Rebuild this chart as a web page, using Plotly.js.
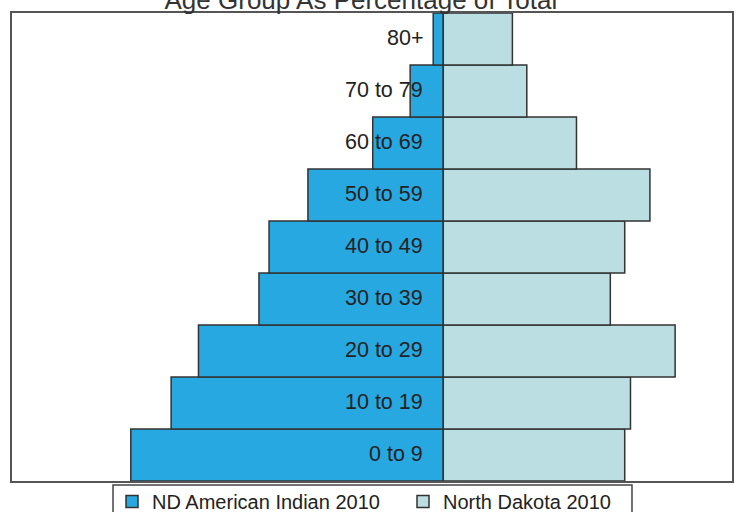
<!DOCTYPE html>
<html>
<head>
<meta charset="utf-8">
<script src="https://cdn.plot.ly/plotly-3.0.1.min.js"></script>
<style>html,body{margin:0;padding:0;background:#fff;}</style>
</head>
<body>
<div id="chart" style="width:738px;height:512px;"></div>
<script>
// Age groups (bottom to top)
const ageGroups = ["0 to 9", "10 to 19", "20 to 29", "30 to 39", "40 to 49", "50 to 59", "60 to 69", "70 to 79", "80+"];
// Percentage of total population
const ndAmericanIndian2010 = [21.7, 18.9, 17.0, 12.8, 12.1, 9.4, 4.9, 2.3, 0.7];
const northDakota2010 = [12.6, 13.0, 16.1, 11.6, 12.6, 14.35, 9.25, 5.8, 4.8];
const seriesNames = ["ND American Indian 2010", "North Dakota 2010"];

const font = '"Liberation Sans", Arial, sans-serif';

const traces = [
  {
    type: 'bar', orientation: 'h',
    name: seriesNames[0],
    y: ageGroups,
    x: ndAmericanIndian2010.map(v => -v),
    marker: {color: '#27A8E0', line: {color: '#333333', width: 1.5}},
    hoverinfo: 'skip'
  },
  {
    type: 'bar', orientation: 'h',
    name: seriesNames[1],
    y: ageGroups,
    x: northDakota2010,
    marker: {color: '#BADEE2', line: {color: '#333333', width: 1.5}},
    hoverinfo: 'skip'
  }
];

const annotations = ageGroups.map(g => ({
  x: 0, y: g, xref: 'x', yref: 'y',
  text: g, showarrow: false,
  xanchor: 'right', yanchor: 'middle', xshift: -18, yshift: 1,
  font: {family: font, size: 21.5, color: '#222222'}
}));

const layout = {
  width: 738, height: 512,
  margin: {l: 12, r: 6, t: 13, b: 31, autoexpand: false},
  paper_bgcolor: '#ffffff', plot_bgcolor: '#ffffff',
  title: {
    text: 'Age Group As Percentage of Total',
    font: {family: font, size: 26, color: '#333333'},
    x: 0.489, xanchor: 'center', xref: 'container',
    yref: 'paper', y: 1, yanchor: 'bottom', pad: {b: 4},
    automargin: false
  },
  barmode: 'relative', bargap: 0,
  xaxis: {
    range: [-29.95, 20.05], showgrid: false, zeroline: false,
    showticklabels: false, ticks: '', fixedrange: true,
    showline: true, mirror: true, linecolor: '#555555', linewidth: 2
  },
  yaxis: {
    showgrid: false, zeroline: false, showticklabels: false, ticks: '',
    showline: true, mirror: true, linecolor: '#555555', linewidth: 2
  },
  showlegend: true,
  legend: {
    orientation: 'h', x: 0.1389, xanchor: 'left', y: -0.002, yanchor: 'top',
    bgcolor: 'rgba(0,0,0,0)', borderwidth: 0,
    font: {family: font, size: 20, color: '#222222'},
    traceorder: 'normal', entrywidth: 246, itemwidth: 30
  },
  shapes: [{
    type: 'rect', xref: 'paper', yref: 'paper',
    x0: 0.1403, x1: 0.8611, y0: -0.2, y1: -0.0085,
    line: {color: '#444444', width: 1.5}, fillcolor: 'rgba(0,0,0,0)', layer: 'below'
  }],
  annotations: annotations
};

Plotly.newPlot('chart', traces, layout, {staticPlot: true});
</script>
</body>
</html>
